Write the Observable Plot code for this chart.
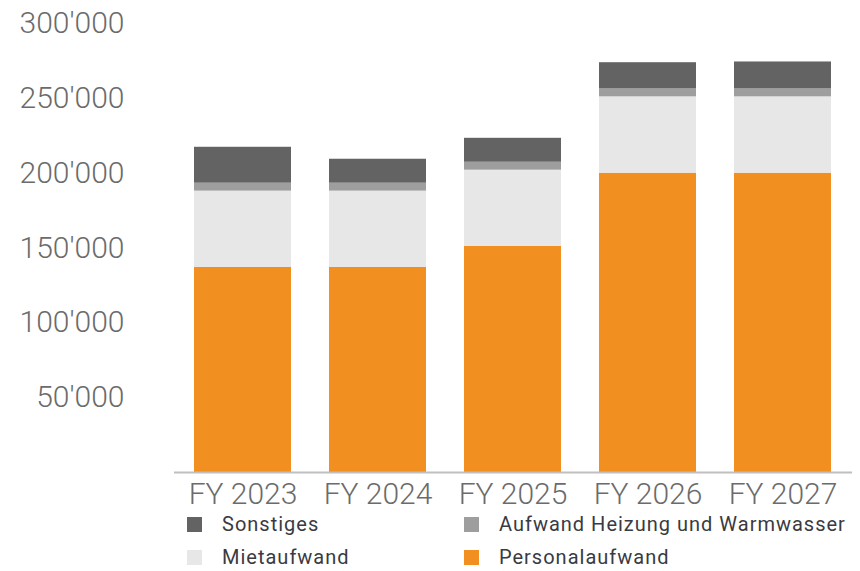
<!DOCTYPE html>
<html>
<head>
<meta charset="utf-8">
<script src="https://cdn.jsdelivr.net/npm/d3@7"></script>
<script src="https://cdn.jsdelivr.net/npm/@observablehq/plot@0.6"></script>
<style>
  html, body { margin: 0; padding: 0; background: #fff; }
  #wrap { position: relative; width: 860px; height: 571px; overflow: hidden; }
  #legend { position: absolute; left: 0; top: 0; width: 860px; font-family: Roboto, sans-serif; font-size: 20px; color: #3a3a42; letter-spacing: 1px; }
  .item { position: absolute; display: flex; align-items: center; height: 20px; white-space: nowrap; }
  .sw { width: 15px; height: 15px; margin-right: 20px; flex: none; }
  #chart svg text { font-weight: 300; }
</style>
</head>
<body>
<div id="wrap">
  <div id="chart"></div>
  <div id="legend"></div>
</div>
<script>
const years = ["FY 2023", "FY 2024", "FY 2025", "FY 2026", "FY 2027"];
const series = ["Personalaufwand", "Mietaufwand", "Aufwand Heizung und Warmwasser", "Sonstiges"];
const colors = ["#f18f20", "#e7e7e7", "#9e9e9e", "#636363"];
const personalaufwand = [137000, 137000, 151000, 200000, 200000];
const mietaufwand = [51000, 51000, 51000, 51000, 51000];
const heizung = [5300, 5300, 5300, 5300, 5300];
const sonstiges = [24000, 16000, 16000, 17500, 18000];
const yTicks = [50000, 100000, 150000, 200000, 250000, 300000];

const valuesBySeries = [personalaufwand, mietaufwand, heizung, sonstiges];
const rows = [];
series.forEach((s, i) => {
  years.forEach((y, j) => rows.push({year: y, series: s, value: valuesBySeries[i][j]}));
});

const fmt = d => d3.format(",")(d).replace(/,/g, "'");

const chart = Plot.plot({
  width: 860,
  height: 510,
  marginLeft: 174,
  marginRight: 8,
  marginTop: 23,
  marginBottom: 38,
  style: {fontFamily: "Roboto, sans-serif", fontSize: "30px", color: "#6b6b6b", background: "#fff"},
  x: {domain: years, paddingInner: 0.28, paddingOuter: 0.14, label: null},
  y: {domain: [0, 300000], label: null},
  color: {domain: series, range: colors},
  marks: [
    Plot.barY(rows, {x: "year", y: "value", fill: "series", order: series}),
    Plot.ruleY([0], {stroke: "#bfbfbf", strokeWidth: 2}),
    Plot.axisY({ticks: yTicks, tickFormat: fmt, tickSize: 0, tickPadding: 50, fontSize: 30, label: null}),
    Plot.axisX({tickSize: 0, tickPadding: 10, fontSize: 30, label: null})
  ]
});
document.getElementById("chart").appendChild(chart);

const legendItems = [
  {name: "Sonstiges", left: 187, top: 514},
  {name: "Aufwand Heizung und Warmwasser", left: 464, top: 514},
  {name: "Mietaufwand", left: 187, top: 547},
  {name: "Personalaufwand", left: 464, top: 547}
];
const legend = document.getElementById("legend");
legendItems.forEach(it => {
  const div = document.createElement("div");
  div.className = "item";
  div.style.left = it.left + "px";
  div.style.top = it.top + "px";
  const sw = document.createElement("span");
  sw.className = "sw";
  sw.style.background = colors[series.indexOf(it.name)];
  const tx = document.createElement("span");
  tx.textContent = it.name;
  div.appendChild(sw);
  div.appendChild(tx);
  legend.appendChild(div);
});
</script>
</body>
</html>
